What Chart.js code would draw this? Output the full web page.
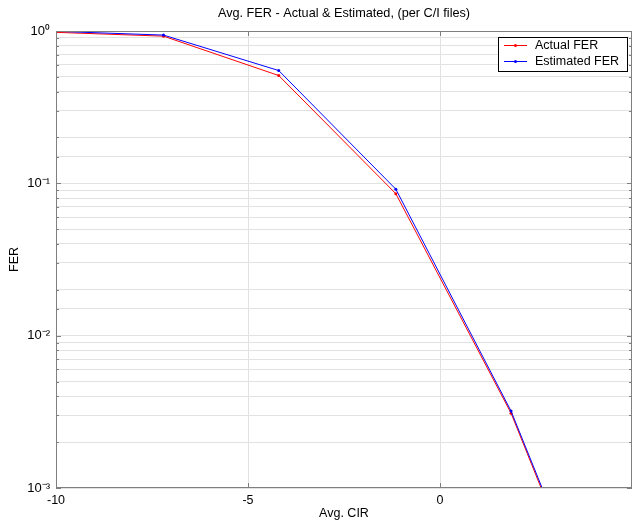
<!DOCTYPE html>
<html>
<head>
<meta charset="utf-8">
<script src="https://cdn.jsdelivr.net/npm/chart.js@4"></script>
<style>
  body { margin: 0; background: #fff; }
</style>
</head>
<body>
<canvas id="myChart" width="632" height="521"></canvas>
<script>
// values
var cir = [-10, -7.2, -4.2, -1.15, 1.85, 4.9];
var actualFer = [0.98, 0.925, 0.51, 0.0855, 0.0031, 0.000038];
var estimatedFer = [0.995, 0.94, 0.55, 0.0915, 0.0032, 0.00004];
var seriesNames = ['Actual FER', 'Estimated FER'];
var seriesColors = ['rgb(255,0,0)', 'rgb(0,0,255)'];
var xTicks = [-10, -5, 0, 5];
var chartTitle = 'Avg. FER - Actual & Estimated, (per C/I files)';

var fontFamily = '"Liberation Sans", Arial, Helvetica, sans-serif';
var sup = { '0': '\u2070', '1': '\u00b9', '2': '\u00b2', '3': '\u00b3', '-': '\u207b' };

function isPow10(v) {
    var e = Math.log10(v);
    return Math.abs(e - Math.round(e)) < 1e-9;
}
function powLabel(v) {
    var e = String(Math.round(Math.log10(v)));
    return '10' + e.split('').map(function (c) { return sup[c]; }).join('');
}

// box, inside tick marks, title and legend the way matlab draws them
var matlabFrame = {
    id: 'matlabFrame',
    afterDraw: function (chart) {
        var ctx = chart.ctx;
        var a = chart.chartArea;
        var xs = chart.scales.x;
        var ys = chart.scales.y;

        ctx.save();
        ctx.strokeStyle = '#7f7f7f';
        ctx.lineWidth = 1;
        ctx.strokeRect(a.left + 0.5, a.top + 0.5, a.right - a.left - 1, a.bottom - a.top - 1);

        ctx.beginPath();
        ys.ticks.forEach(function (t) {
            var y = Math.round(ys.getPixelForValue(t.value)) + 0.5;
            var len = isPow10(t.value) ? 5 : 3;
            ctx.moveTo(a.left, y); ctx.lineTo(a.left + len, y);
            ctx.moveTo(a.right, y); ctx.lineTo(a.right - len, y);
        });
        xs.ticks.forEach(function (t) {
            var x = Math.round(xs.getPixelForValue(t.value)) + 0.5;
            ctx.moveTo(x, a.bottom); ctx.lineTo(x, a.bottom - 5);
            ctx.moveTo(x, a.top); ctx.lineTo(x, a.top + 5);
        });
        ctx.stroke();

        // title centred over the plot area
        ctx.fillStyle = '#000';
        ctx.font = '12.7px ' + fontFamily;
        ctx.textAlign = 'center';
        ctx.textBaseline = 'middle';
        ctx.fillText(chartTitle, (a.left + a.right) / 2, 13);

        // legend
        var bw = 129, bh = 34;
        var bx = a.right - 5 - bw, by = a.top + 6;
        ctx.fillStyle = '#fff';
        ctx.fillRect(bx, by, bw, bh);
        ctx.strokeStyle = '#000';
        ctx.strokeRect(bx + 0.5, by + 0.5, bw, bh);
        ctx.font = '12.5px ' + fontFamily;
        ctx.textAlign = 'left';
        chart.data.datasets.forEach(function (ds, i) {
            var ly = by + 8 + i * 16;
            ctx.strokeStyle = ds.borderColor;
            ctx.beginPath();
            ctx.moveTo(bx + 6, ly + 0.5); ctx.lineTo(bx + 29, ly + 0.5);
            ctx.stroke();
            ctx.fillStyle = ds.borderColor;
            ctx.beginPath();
            ctx.arc(bx + 17.5, ly + 0.5, 1.5, 0, Math.PI * 2);
            ctx.fill();
            ctx.fillStyle = '#000';
            ctx.fillText(ds.label, bx + 37, ly + 1);
        });
        ctx.restore();
    }
};

var ctx = document.getElementById('myChart').getContext('2d');
var myChart = new Chart(ctx, {
    type: 'line',
    data: {
        datasets: [{
            label: seriesNames[0],
            data: cir.map(function (x, i) { return { x: x, y: actualFer[i] }; }),
            borderColor: seriesColors[0],
            backgroundColor: seriesColors[0],
            borderWidth: 1,
            pointRadius: 1.5,
            pointBorderWidth: 0,
            order: 2
        }, {
            label: seriesNames[1],
            data: cir.map(function (x, i) { return { x: x, y: estimatedFer[i] }; }),
            borderColor: seriesColors[1],
            backgroundColor: seriesColors[1],
            borderWidth: 1,
            pointRadius: 1.5,
            pointBorderWidth: 0,
            order: 1
        }]
    },
    options: {
        responsive: false,
        animation: false,
        layout: { autoPadding: false, padding: { top: 31, right: 0, left: 0, bottom: 0 } },
        plugins: {
            legend: { display: false },
            title: { display: false },
            tooltip: { enabled: false }
        },
        scales: {
            x: {
                type: 'linear',
                min: -10,
                max: 5,
                afterBuildTicks: function (s) {
                    s.ticks = xTicks.map(function (v) { return { value: v }; });
                },
                afterFit: function (s) {
                    s.height = 33;
                    s.paddingLeft = 0;
                    s.paddingRight = 0;
                },
                ticks: {
                    color: '#000',
                    font: { family: fontFamily, size: 12.5 },
                    padding: 5,
                    maxRotation: 0,
                    callback: function (v) { return v === 5 ? '' : String(v); }
                },
                grid: { color: '#e2e2e2', drawTicks: false },
                border: { display: false },
                title: {
                    display: true,
                    text: 'Avg. CIR',
                    color: '#000',
                    font: { family: fontFamily, size: 12.5 },
                    padding: { top: 0, bottom: 0 }
                }
            },
            y: {
                type: 'logarithmic',
                min: 0.001,
                max: 1,
                afterFit: function (s) { s.width = 56; },
                ticks: {
                    autoSkip: false,
                    color: '#000',
                    font: { family: fontFamily, size: 13 },
                    padding: 6,
                    callback: function (v) { return isPow10(v) ? powLabel(v) : ''; }
                },
                grid: { color: '#e2e2e2', drawTicks: false },
                border: { display: false },
                title: {
                    display: true,
                    text: 'FER',
                    color: '#000',
                    font: { family: fontFamily, size: 12.5 },
                    padding: { top: 7, bottom: 0 }
                }
            }
        }
    },
    plugins: [matlabFrame]
});
</script>
</body>
</html>
